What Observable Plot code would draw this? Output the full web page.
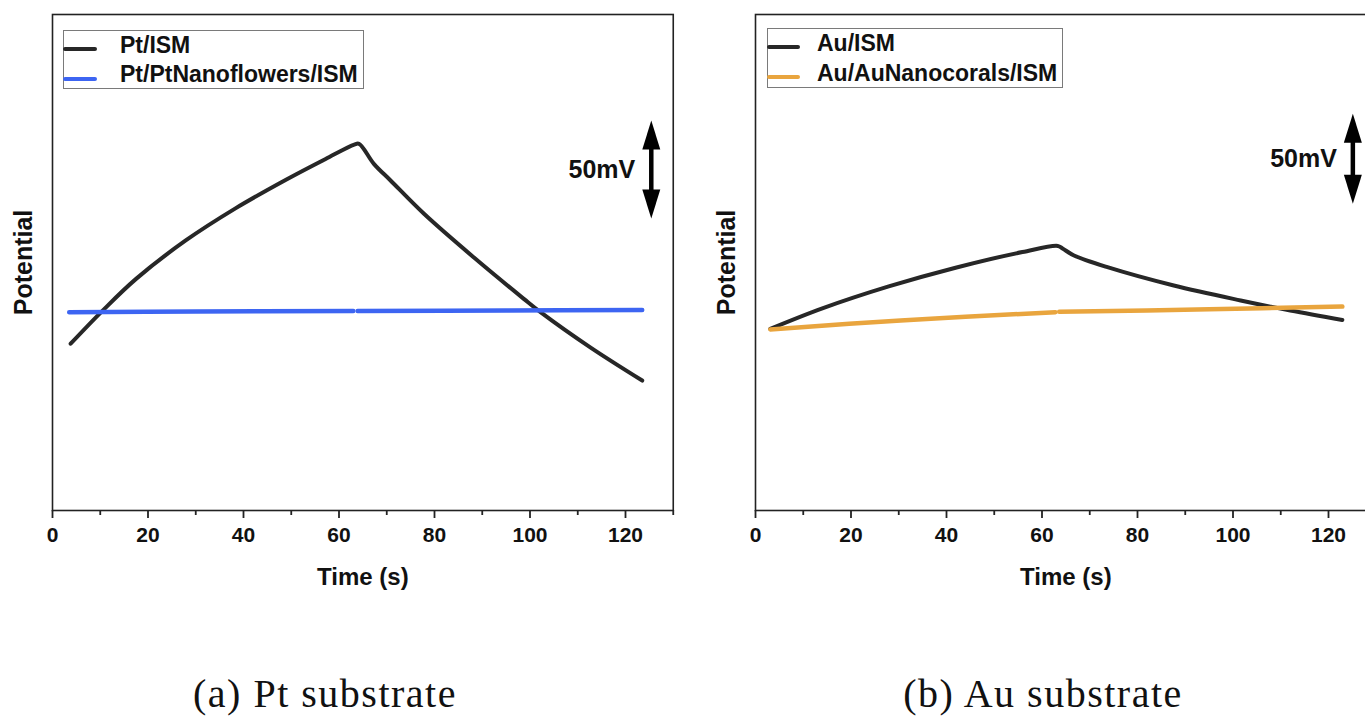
<!DOCTYPE html>
<html>
<head>
<meta charset="utf-8">
<script src="https://cdn.jsdelivr.net/npm/d3@7"></script>
<script src="https://cdn.jsdelivr.net/npm/@observablehq/plot@0.6"></script>
<style>
  html, body { margin: 0; padding: 0; background: #fff; overflow: hidden; }
  #page { position: relative; width: 1365px; height: 717px; overflow: hidden; background: #fff;
          font-family: "Liberation Sans", Arial, sans-serif; }
  .panel { position: absolute; top: 0; }
  .legend-box { position: absolute; border: 1.5px solid #7a7a7a; box-sizing: border-box; }
  .swatch { position: absolute; height: 4px; border-radius: 2px; }
  .legend-text { position: absolute; font-weight: bold; font-size: 23px; line-height: 23px;
                 white-space: nowrap; color: #111; }
  .caption { position: absolute; font-family: "Liberation Serif", "Times New Roman", serif;
             font-size: 40px; line-height: 40px; letter-spacing: 1.5px; white-space: nowrap;
             transform: translateX(-50%); color: #111; }
</style>
</head>
<body>
<div id="page"></div>
<script>
// Shared time axis
const xDomain = [0, 130];
const majorTicks = [0, 20, 40, 60, 80, 100, 120];
const minorTicks = [10, 30, 50, 70, 90, 110, 130];

// Chronopotentiograms on Pt (potential in mV, arbitrary offset)
const ptIsmTime      = [3.8, 10.5, 17.5, 27.9, 38.4, 48.9, 57.2, 63.2, 64.2, 67.3, 70.8, 77.8, 88.2, 98.7, 102.2, 112.7, 123.5];
const ptIsmPotential = [85.1, 102.0, 118.2, 137.8, 154.3, 168.8, 179.4, 186.7, 187.1, 176.9, 168.4, 151.4, 129.2, 108.0, 101.2, 83.1, 66.3];
const ptFlowerTime      = [3.5, 30, 63.0, 63.9, 95, 123.5];
const ptFlowerPotential = [101.2, 101.5, 101.8, 101.8, 102.1, 102.3];
const ptFlowerStep      = ["+i", "+i", "+i", "-i", "-i", "-i"];

// Chronopotentiograms on Au (potential in mV, arbitrary offset)
const auIsmTime      = [3.1, 14.0, 27.9, 41.9, 55.9, 63.3, 64.3, 66.7, 73.7, 87.6, 101.6, 112.0, 122.9];
const auIsmPotential = [100.9, 112.3, 124.5, 134.9, 143.6, 147.0, 145.6, 141.7, 135.2, 125.0, 116.7, 111.1, 105.9];
const auCoralTime      = [3.1, 30.4, 62.8, 63.6, 95, 122.9];
const auCoralPotential = [100.6, 105.6, 110.2, 110.4, 111.8, 113.3];
const auCoralStep      = ["+i", "+i", "+i", "-i", "-i", "-i"];

// 50 mV scale bars
const scaleBarTime = [125.4, 125.1];
const scaleBarFrom = [149, 170.4];
const scaleBarSpan = 50;

// Potential window shown in each panel (mV)
const potentialRange = [253.1, 275.6];

const labels = {
  pt: ["Pt/ISM", "Pt/PtNanoflowers/ISM"],
  au: ["Au/ISM", "Au/AuNanocorals/ISM"],
  captions: ["(a) Pt substrate", "(b) Au substrate"]
};
const colors = { ism: "#272727", pt: "#3d65f2", au: "#e9a53e" };

const toRows = (times, values, steps) =>
  times.map((t, i) => ({ time: t, potential: values[i], step: steps ? steps[i] : "all" }));

// Filled, elongated arrow head with its tip at the anchor point
const arrowHead = {
  draw(ctx) {
    ctx.moveTo(0, 0);
    ctx.lineTo(9, 29);
    ctx.lineTo(-9, 29);
    ctx.closePath();
  }
};

function panel({ width, marginLeft, marginRight, yMax, ism, modified, modColor, barT, barFrom }) {
  const bar = [{ t: barT, from: barFrom, to: barFrom + scaleBarSpan, mid: barFrom + scaleBarSpan / 2 }];
  return Plot.plot({
    width, height: 600,
    marginLeft, marginRight, marginTop: 14, marginBottom: 90,
    x: { domain: xDomain, axis: null },
    y: { domain: [0, yMax], axis: null },
    style: { fontFamily: "'Liberation Sans', Arial, sans-serif", color: "#111", background: "transparent" },
    marks: [
      Plot.frame({ stroke: "#222", strokeWidth: 1.6 }),
      Plot.axisX({ ticks: minorTicks, tickSize: 5, tickFormat: () => "", strokeWidth: 1.8, stroke: "#222", label: null }),
      Plot.axisX({ ticks: majorTicks, tickSize: 8, tickPadding: 9, tickFormat: d => String(d),
                   strokeWidth: 1.8, stroke: "#222", fontSize: 21, fontWeight: "bold", fill: "#111", label: null }),
      Plot.text(["Time (s)"], { frameAnchor: "bottom", dy: 67, lineAnchor: "middle",
                                fontSize: 24, fontWeight: "bold", fill: "#111" }),
      Plot.text(["Potential"], { frameAnchor: "left", dx: -29, rotate: -90, textAnchor: "middle", lineAnchor: "middle",
                                 fontSize: 25, fontWeight: "bold", fill: "#111" }),
      Plot.line(ism, { x: "time", y: "potential", stroke: colors.ism, strokeWidth: 4, curve: "catmull-rom" }),
      Plot.line(modified, { x: "time", y: "potential", z: "step", stroke: modColor, strokeWidth: 4.5, curve: "catmull-rom" }),
      Plot.ruleX(bar, { x: "t", y1: "to", y2: "from", stroke: "#000", strokeWidth: 4.5, insetTop: 12, insetBottom: 12 }),
      Plot.dot(bar, { x: "t", y: "to", symbol: arrowHead, fill: "#000", stroke: "none" }),
      Plot.dot(bar, { x: "t", y: "from", symbol: arrowHead, rotate: 180, fill: "#000", stroke: "none" }),
      Plot.text(bar, { x: "t", y: "mid", text: () => "50mV", dx: -16, textAnchor: "end", lineAnchor: "middle",
                       fontSize: 25, fontWeight: "bold", fill: "#111" })
    ]
  });
}

const page = document.getElementById("page");

function place(node, left) {
  node.classList.add("panel");
  node.style.left = left + "px";
  page.appendChild(node);
}

place(panel({
  width: 682, marginLeft: 52, marginRight: 9.25, yMax: potentialRange[0],
  ism: toRows(ptIsmTime, ptIsmPotential),
  modified: toRows(ptFlowerTime, ptFlowerPotential, ptFlowerStep),
  modColor: colors.pt, barT: scaleBarTime[0], barFrom: scaleBarFrom[0]
}), 0);

place(panel({
  width: 704, marginLeft: 73, marginRight: 10.25, yMax: potentialRange[1],
  ism: toRows(auIsmTime, auIsmPotential),
  modified: toRows(auCoralTime, auCoralPotential, auCoralStep),
  modColor: colors.au, barT: scaleBarTime[1], barFrom: scaleBarFrom[1]
}), 682);

// Legends drawn over the upper-left corner of each frame
function legend({ box, swatchLeft, swatchWidth, rowsY, textLeft, textTops, names, swatchColors }) {
  const b = document.createElement("div");
  b.className = "legend-box";
  Object.assign(b.style, { left: box[0] + "px", top: box[1] + "px", width: box[2] + "px", height: box[3] + "px" });
  page.appendChild(b);
  names.forEach((name, i) => {
    const s = document.createElement("div");
    s.className = "swatch";
    Object.assign(s.style, { left: swatchLeft + "px", top: (rowsY[i] - 2) + "px", width: swatchWidth + "px",
                             background: swatchColors[i] });
    page.appendChild(s);
    const t = document.createElement("div");
    t.className = "legend-text";
    t.textContent = name;
    Object.assign(t.style, { left: textLeft + "px", top: textTops[i] + "px" });
    page.appendChild(t);
  });
}

legend({ box: [63, 30, 301, 59], swatchLeft: 63, swatchWidth: 34, rowsY: [49, 78.5], textLeft: 120,
         textTops: [33.5, 62.5], names: labels.pt, swatchColors: [colors.ism, colors.pt] });
legend({ box: [767, 28, 296, 60], swatchLeft: 767, swatchWidth: 33, rowsY: [46.7, 76.7], textLeft: 817,
         textTops: [32.2, 61.5], names: labels.au, swatchColors: [colors.ism, colors.au] });

// Sub-figure captions
[[325, labels.captions[0]], [1043, labels.captions[1]]].forEach(([cx, text]) => {
  const c = document.createElement("div");
  c.className = "caption";
  c.textContent = text;
  Object.assign(c.style, { left: cx + "px", top: "674px" });
  page.appendChild(c);
});
</script>
</body>
</html>
